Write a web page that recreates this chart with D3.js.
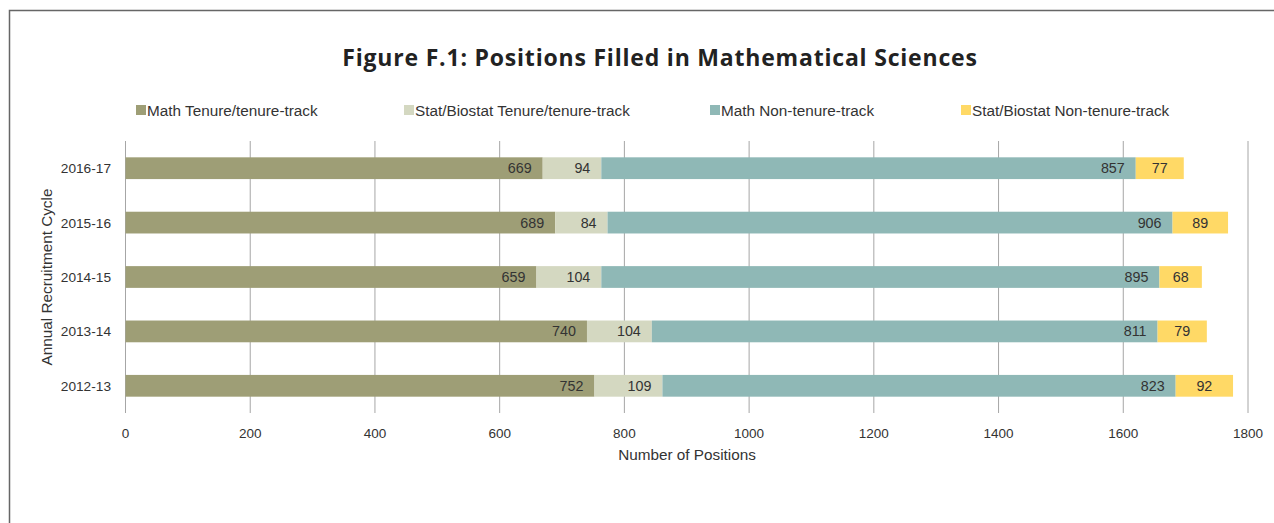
<!DOCTYPE html>
<html>
<head>
<meta charset="utf-8">
<script src="https://cdn.jsdelivr.net/npm/d3@7"></script>
<style>
  body { margin: 0; background: #fff; }
  svg { display: block; font-family: "Liberation Sans", Arial, sans-serif; }
</style>
</head>
<body>
<div id="chart"></div>
<script>
const cycles = ["2016-17", "2015-16", "2014-15", "2013-14", "2012-13"];
const seriesNames = ["Math Tenure/tenure-track", "Stat/Biostat Tenure/tenure-track", "Math Non-tenure-track", "Stat/Biostat Non-tenure-track"];
const mathTT = [669, 689, 659, 740, 752];
const statTT = [94, 84, 104, 104, 109];
const mathNTT = [857, 906, 895, 811, 823];
const statNTT = [77, 89, 68, 79, 92];
const xTicks = [0, 200, 400, 600, 800, 1000, 1200, 1400, 1600, 1800];
const colors = ["#9e9e76", "#d4d8c1", "#8fb8b6", "#ffd966"];

const W = 1274, H = 523;
const svg = d3.select("#chart").append("svg").attr("width", W).attr("height", H);

// frame
svg.append("rect")
    .attr("x", 9.5).attr("y", 10.5)
    .attr("width", W + 20).attr("height", H + 20)
    .attr("fill", "none").attr("stroke", "#666").attr("stroke-width", 1.5);

svg.append("text")
    .attr("x", 660).attr("y", 66)
    .attr("text-anchor", "middle")
    .style("font-family", "'Open Sans', 'Noto Sans', sans-serif")
    .style("font-weight", "bold")
    .style("font-size", "23px")
    .style("letter-spacing", "0.8px")
    .style("fill", "#222")
    .text("Figure F.1: Positions Filled in Mathematical Sciences");

const rows = cycles.map((c, i) => ({cycle: c, vals: [mathTT[i], statTT[i], mathNTT[i], statNTT[i]]}));

const x = d3.scaleLinear().domain([0, 1800]).range([125.5, 1248]);
const y = d3.scaleBand().domain(cycles).range([141, 413]).paddingInner(0.6).paddingOuter(0.3);

// gridlines
svg.append("g").selectAll("line")
    .data(xTicks)
    .join("line")
    .attr("x1", d => x(d)).attr("x2", d => x(d))
    .attr("y1", 141).attr("y2", 413)
    .attr("stroke", "#a6a6a6").attr("stroke-width", 1);

// stacked bars
const stack = rows.map(r => {
    let acc = 0;
    return r.vals.map((v, k) => {
        const seg = {cycle: r.cycle, k, v, x0: acc, x1: acc + v};
        acc += v;
        return seg;
    });
}).flat();

svg.append("g").selectAll("rect")
    .data(stack)
    .join("rect")
    .attr("x", d => x(d.x0))
    .attr("width", d => x(d.x1) - x(d.x0))
    .attr("y", d => y(d.cycle))
    .attr("height", y.bandwidth())
    .attr("fill", d => colors[d.k]);

// last series labels sit centred, the others at the inside end
svg.append("g").selectAll("text")
    .data(stack)
    .join("text")
    .attr("x", d => d.k === 3 ? (x(d.x0) + x(d.x1)) / 2 : x(d.x1) - 11)
    .attr("y", d => y(d.cycle) + y.bandwidth() / 2 + 5)
    .attr("text-anchor", d => d.k === 3 ? "middle" : "end")
    .style("font-size", "14.3px")
    .style("fill", "#333")
    .text(d => d.v);

// x axis labels
svg.append("g").selectAll("text")
    .data(xTicks)
    .join("text")
    .attr("x", d => x(d)).attr("y", 438)
    .attr("text-anchor", "middle")
    .style("font-size", "13.5px")
    .style("fill", "#333")
    .text(d => d);

// y axis labels
svg.append("g").selectAll("text")
    .data(cycles)
    .join("text")
    .attr("x", 111)
    .attr("y", d => y(d) + y.bandwidth() / 2 + 5)
    .attr("text-anchor", "end")
    .style("font-size", "13.7px")
    .style("fill", "#333")
    .text(d => d);

svg.append("text")
    .attr("x", 687).attr("y", 460)
    .attr("text-anchor", "middle")
    .style("font-size", "15.3px").style("fill", "#333")
    .text("Number of Positions");

svg.append("text")
    .attr("transform", "translate(52,277) rotate(-90)")
    .attr("text-anchor", "middle")
    .style("font-size", "15.3px").style("fill", "#333")
    .text("Annual Recruitment Cycle");

// legend
const legendX = [136, 404, 710, 961];
const legend = svg.append("g").selectAll("g")
    .data(seriesNames)
    .join("g")
    .attr("transform", (d, i) => `translate(${legendX[i]},105)`);
legend.append("rect").attr("width", 10).attr("height", 10).attr("fill", (d, i) => colors[i]);
legend.append("text")
    .attr("x", 11).attr("y", 10.5)
    .style("font-size", "15.3px").style("fill", "#333")
    .text(d => d);
</script>
</body>
</html>
